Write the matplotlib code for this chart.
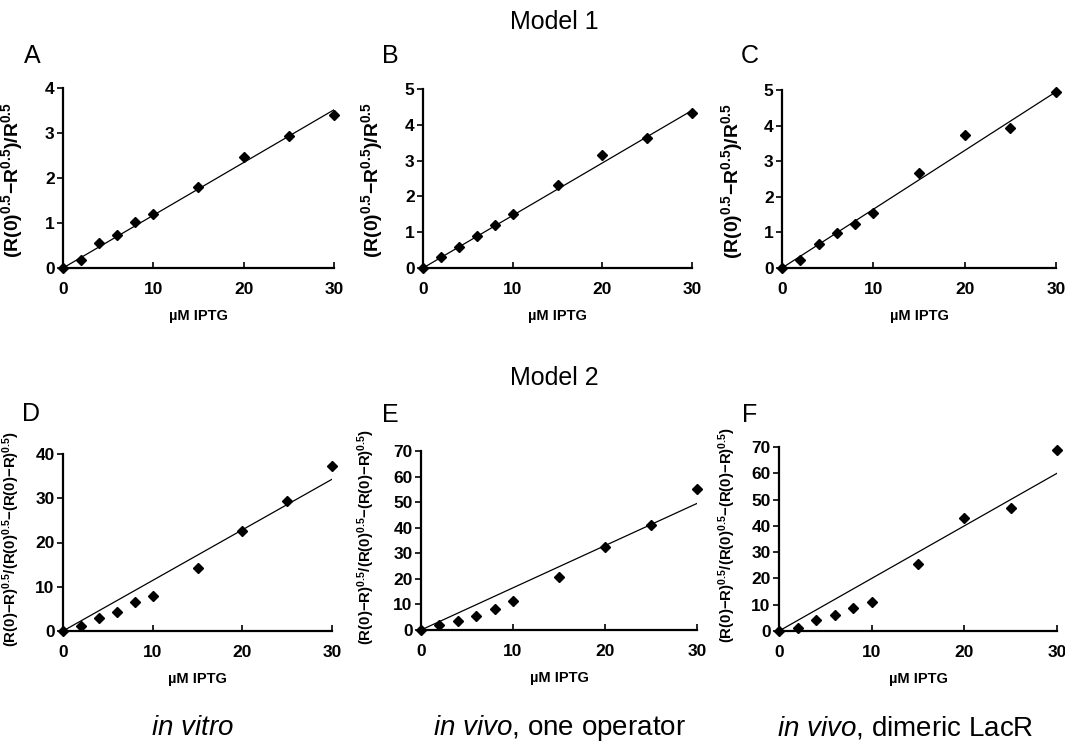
import numpy as np
import matplotlib
matplotlib.use("Agg")
import matplotlib.pyplot as plt

# IPTG concentrations (µM), shared by all panels
iptg = [0, 2, 4, 6, 8, 10, 15, 20, 25, 30]

# Model 1 panels
a_vals = [0, 0.18, 0.55, 0.73, 1.03, 1.21, 1.81, 2.47, 2.94, 3.41]
b_vals = [0, 0.30, 0.60, 0.90, 1.20, 1.52, 2.33, 3.15, 3.64, 4.33]
c_vals = [0, 0.22, 0.68, 0.98, 1.23, 1.55, 2.67, 3.73, 3.92, 4.95]
# Model 2 panels
d_vals = [0, 1.2, 3.0, 4.4, 6.6, 8.0, 14.2, 22.5, 29.3, 37.3]
e_vals = [0, 1.8, 3.5, 5.6, 8.3, 11.3, 20.6, 32.6, 41.0, 55.0]
f_vals = [0, 1.2, 4.0, 6.2, 8.6, 11.2, 25.4, 42.9, 46.9, 68.9]

# slopes of the fitted lines through the origin
slopes = [0.1172, 0.1467, 0.165, 1.143, 1.65, 2.0]

letters = ["A", "B", "C", "D", "E", "F"]
ymax = [4, 5, 5, 40, 70, 70]
ystep = [1, 1, 1, 10, 10, 10]
conditions = ["in vitro", "in vivo", "in vivo"]
condition_rest = ["", ", one operator", ", dimeric LacR"]

label1 = r"$\mathbf{(R(0)^{0.5}{-}R^{0.5})/R^{0.5}}$"
label2 = r"$\mathbf{(R(0){-}R)^{0.5}/(R(0)^{0.5}{-}(R(0){-}R)^{0.5})}$"

plt.rcParams["font.family"] = ["Liberation Sans", "DejaVu Sans"]
plt.rcParams["mathtext.fontset"] = "custom"
plt.rcParams["mathtext.rm"] = "Liberation Sans"
plt.rcParams["mathtext.bf"] = "Liberation Sans:bold"
plt.rcParams["mathtext.it"] = "Liberation Sans:italic"

W, H = 1065, 744
fig = plt.figure(figsize=(W / 100, H / 100), dpi=100)

# axes boxes in pixels: left, right, top, bottom
boxes = [(63, 334, 88, 268), (423, 692, 89, 268), (782, 1056, 90, 268),
         (63, 332, 454, 631), (421, 697, 451, 630), (779, 1057, 447, 631)]
letter_pos = [(32, 56), (390, 56), (750, 56), (31, 414), (390, 415), (750, 415)]
ylabel_off = [38, 38, 37, 41, 44, 41]  # pixels left of the y axis

all_vals = [a_vals, b_vals, c_vals, d_vals, e_vals, f_vals]

for i, vals in enumerate(all_vals):
    l, r, t, b = boxes[i]
    ax = fig.add_axes([l / W, 1 - b / H, (r - l) / W, (b - t) / H])
    ax.plot(iptg, vals, linestyle="none", marker="D", markersize=5, color="black", clip_on=False, zorder=3)
    xs = np.array([0, 30])
    ax.plot(xs, slopes[i] * xs, color="black", linewidth=0.9)

    ax.set_xlim(0, 30)
    ax.set_ylim(0, ymax[i])
    ax.set_xticks([0, 10, 20, 30])
    ax.set_yticks(np.arange(0, ymax[i] + 0.1, ystep[i]))
    for s in ["top", "right"]:
        ax.spines[s].set_visible(False)
    for s in ["left", "bottom"]:
        ax.spines[s].set_linewidth(1.6)
    ax.tick_params(axis="x", direction="in", length=4, width=1.2, pad=10, labelsize=12.5)
    ax.tick_params(axis="y", direction="out", length=4, width=1.2, pad=2, labelsize=12.5)
    for lab in ax.get_xticklabels() + ax.get_yticklabels():
        lab.set_fontweight("bold")

    ax.set_xlabel("µM IPTG", fontsize=10.5, fontweight="bold", labelpad=9)
    if i < 3:
        ax.set_ylabel(label1, fontsize=14)
        ax.yaxis.set_label_coords(-ylabel_off[i] / (r - l), 0.49)
    else:
        ax.set_ylabel(label2, fontsize=10.8)
        ax.yaxis.set_label_coords(-ylabel_off[i] / (r - l), 0.52)

    lx, ly = letter_pos[i]
    fig.text(lx / W, 1 - ly / H, letters[i], fontsize=18, ha="center", va="center")

fig.text(554 / W, 1 - 22 / H, "Model 1", fontsize=18, ha="center", va="center")
fig.text(554 / W, 1 - 378 / H, "Model 2", fontsize=18, ha="center", va="center")

# condition labels under each column
centers = [192, 559, 905]
for cx, it_part, rest in zip(centers, conditions, condition_rest):
    txt = "$\\mathit{" + it_part.replace(" ", "\\ ") + "}$" + rest
    fig.text(cx / W, 1 - 728 / H, txt, fontsize=20, ha="center", va="center")

fig.savefig("out.png", dpi=100)
